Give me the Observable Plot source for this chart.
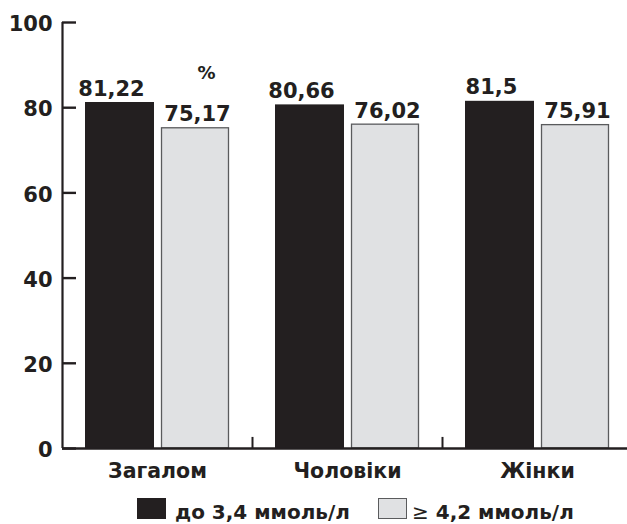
<!DOCTYPE html>
<html>
<head>
<meta charset="utf-8">
<script src="https://cdn.jsdelivr.net/npm/d3@7"></script>
<script src="https://cdn.jsdelivr.net/npm/@observablehq/plot@0.6"></script>
<style>
  html, body { margin: 0; padding: 0; background: #fff; }
  #wrap { width: 627px; position: relative; }
  svg { display: block; }
  #legend { position: relative; width: 627px; height: 36px; font-family: "DejaVu Sans", sans-serif; font-weight: bold; color: #231f20; }
  #legend .sw { position: absolute; top: 10px; width: 29px; height: 21px; box-sizing: border-box; }
  #legend .lab { position: absolute; top: 14px; font-size: 20px; line-height: 1; white-space: nowrap; }
</style>
</head>
<body>
<div id="wrap"></div>
<script>
// ---- data ----
const categories = ["Загалом", "Чоловіки", "Жінки"];
const seriesNames = ["до 3,4 ммоль/л", "≥ 4,2 ммоль/л"];
const lowValues = [81.22, 80.66, 81.5];   // до 3,4 ммоль/л
const highValues = [75.17, 76.02, 75.91]; // ≥ 4,2 ммоль/л
const yTicks = [0, 20, 40, 60, 80, 100];
const unitLabel = "%";

// ---- styles ----
const BLACK = "#231f20";
const GRAY = "#e0e1e3";
const GRAY_STROKE = "#5a5b5d";
const FONT = "'DejaVu Sans', sans-serif";

const fmt = v => String(v).replace(".", ",");
const lowRows = categories.map((c, i) => ({cat: c, v: lowValues[i]}));
const highRows = categories.map((c, i) => ({cat: c, v: highValues[i]}));

const W = 627, H = 488, mL = 62, mR = 0, mT = 22, mB = 40;
const frameW = W - mL - mR;
const band = (632 - mL) / categories.length;

const chart = Plot.plot({
  width: W,
  height: H,
  marginLeft: mL,
  marginRight: mR,
  marginTop: mT,
  marginBottom: mB,
  style: {fontFamily: FONT, color: BLACK, background: "#fff"},
  x: {type: "band", domain: categories, range: [mL, 632], padding: 0, axis: null},
  y: {domain: [0, 100], axis: null},
  marks: [
    Plot.barY(lowRows, {x: "cat", y: "v", fill: BLACK, insetLeft: 23, insetRight: 98}),
    Plot.barY(highRows, {x: "cat", y: "v", fill: GRAY, stroke: GRAY_STROKE, strokeWidth: 1.3, insetLeft: 99.5, insetRight: 23.5}),
    // y axis line
    Plot.ruleX([categories[0]], {x: d => d, y1: 0, y2: 100, dx: -band / 2, stroke: BLACK, strokeWidth: 2.2}),
    // y ticks (pointing inward)
    Plot.ruleY(yTicks, {y: d => d, insetRight: frameW - 14, stroke: BLACK, strokeWidth: 2.4}),
    // x axis line
    Plot.ruleY([0], {stroke: BLACK, strokeWidth: 2.4}),
    // x boundary ticks
    Plot.ruleX(categories.slice(1), {x: d => d, y1: 0, y2: 2.6, dx: -band / 2, stroke: BLACK, strokeWidth: 2}),
    // y tick labels
    Plot.text(yTicks, {y: d => d, text: d => String(d), frameAnchor: "left", textAnchor: "end", dx: -10, dy: 2,
      fontSize: 21, fontWeight: "bold", fill: BLACK}),
    // unit label
    Plot.text([unitLabel], {text: d => d, frameAnchor: "top-left", dx: 135, dy: 56, lineAnchor: "bottom",
      fontSize: 18, fontWeight: "bold", fill: BLACK}),
    // value labels
    Plot.text(lowRows, {x: "cat", y: "v", text: d => fmt(d.v), dx: -46, dy: -7, lineAnchor: "bottom",
      fontSize: 21, fontWeight: "bold", fill: BLACK}),
    Plot.text(highRows, {x: "cat", y: "v", text: d => fmt(d.v), dx: 40, dy: -7, lineAnchor: "bottom",
      fontSize: 21, fontWeight: "bold", fill: BLACK}),
    // category labels
    Plot.text(categories, {x: d => d, text: d => d, frameAnchor: "bottom", dy: 29, lineAnchor: "bottom",
      fontSize: 20.5, fontWeight: "bold", fill: BLACK})
  ]
});
document.getElementById("wrap").appendChild(chart);

// ---- legend ----
const legend = document.createElement("div");
legend.id = "legend";
legend.innerHTML = `
  <div class="sw" style="left:137px;background:${BLACK}"></div>
  <div class="lab" style="left:175px">${seriesNames[0]}</div>
  <div class="sw" style="left:378px;background:${GRAY};border:1.3px solid ${GRAY_STROKE}"></div>
  <div class="lab" style="left:412px"><span style="font-weight:normal">${seriesNames[1].slice(0,1)}</span>${seriesNames[1].slice(1)}</div>
`;
document.getElementById("wrap").appendChild(legend);
</script>
</body>
</html>
